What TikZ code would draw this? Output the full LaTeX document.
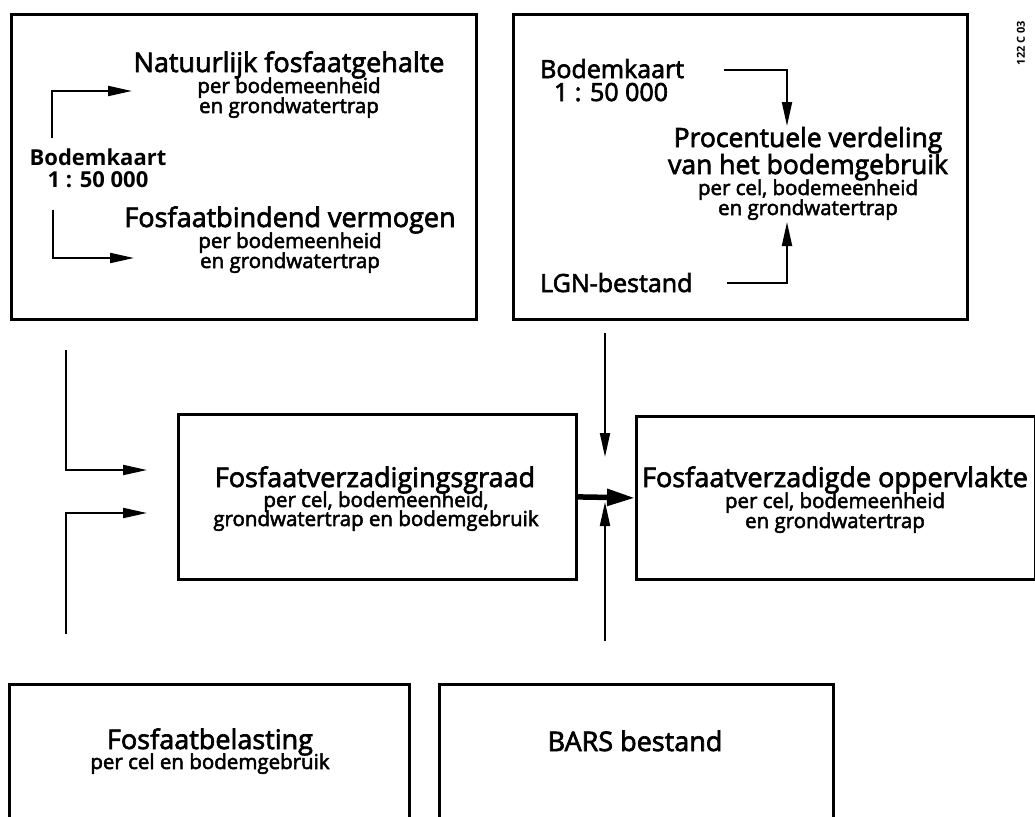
\documentclass[tikz,border=0pt]{standalone}
\usepackage{fontspec}
\setmainfont{Open Sans}
\newfontfamily\medfont{Open Sans}[FakeBold=2.5]
\usetikzlibrary{arrows.meta}
\begin{document}
\begin{tikzpicture}[x=1pt,y=-1pt,
 box/.style={draw, line width=2.8pt, inner sep=0pt, anchor=north west},
 conn/.style={line width=2pt, -{Triangle[length=24pt,width=10pt]}},
 big/.style={font=\medfont\fontsize{27}{27}\selectfont, inner sep=0pt, anchor=base},
 small/.style={font=\medfont\fontsize{20.5}{20}\selectfont, inner sep=0pt, anchor=base},
 src/.style={font=\fontsize{22}{22}\selectfont\bfseries, inner sep=0pt, anchor=base},
 srcb/.style={font=\medfont\fontsize{25}{24}\selectfont, inner sep=0pt, anchor=base west}]
\useasboundingbox (0,0) rectangle (1035,816);
% boxes
\node[box, minimum width=465pt, minimum height=305pt] (tl) at (10,13) {};
\node[box, minimum width=454pt, minimum height=305pt] (tr) at (512,13) {};
\node[box, minimum width=398pt, minimum height=165pt] (mid) at (177,413) {};
\node[box, minimum width=399pt, minimum height=163pt] (rgt) at (635,415) {};
\node[box, minimum width=400pt, minimum height=150pt] (bl) at (8,683) {};
\node[box, minimum width=394pt, minimum height=150pt] (br) at (438,683) {};
% top-left content
\node[big] (nat) at (289,72) {Natuurlijk fosfaatgehalte};
\node[small] (nat2) at (289,93) {per bodemeenheid};
\node[small] (nat3) at (289,113) {en grondwatertrap};
\node[src] (bk1a) at (98,165) {Bodemkaart};
\node[src] (bk1b) at (98,187) {1 : 50 000};
\node[big] (fbv) at (290,227) {Fosfaatbindend vermogen};
\node[small] (fbv2) at (290,248) {per bodemeenheid};
\node[small] (fbv3) at (290,268) {en grondwatertrap};
\coordinate (bk1up) at (52,138);
\coordinate (bk1dn) at (53,210);
\coordinate (natin) at (132,91);
\coordinate (fbvin) at (134,258);
\draw[conn] (bk1up) |- (natin);
\draw[conn] (bk1dn) |- (fbvin);
% top-right content
\node[srcb] (bk2a) at (540,78) {Bodemkaart};
\node[srcb, anchor=base] (bk2b) at (611,101) {1 : 50 000};
\node[big, font=\medfont\fontsize{26.5}{27}\selectfont] (pv) at (808,147) {Procentuele verdeling};
\node[big, font=\medfont\fontsize{26.5}{27}\selectfont] (pv1) at (808,174) {van het bodemgebruik};
\node[small] (pv2) at (808,195) {per cel, bodemeenheid};
\node[small] (pv3) at (808,215) {en grondwatertrap};
\node[srcb] (lgn) at (540,292) {LGN-bestand};
\coordinate (bk2out) at (724,70);
\coordinate (pvtop) at (787,126);
\coordinate (lgnout) at (727,283);
\coordinate (pvbot) at (787,222);
\draw[conn] (bk2out) -| (pvtop);
\draw[conn] (lgnout) -| (pvbot);
% middle content
\node[big] (fvg) at (375,487) {Fosfaatverzadigingsgraad};
\node[small] (fvg2) at (376,507) {per cel, bodemeenheid,};
\node[small] (fvg3) at (376,526) {grondwatertrap en bodemgebruik};
\node[big] (fvo) at (835,487) {Fosfaatverzadigde oppervlakte};
\node[small] (fvo2) at (835,508) {per cel, bodemeenheid};
\node[small] (fvo3) at (835,528) {en grondwatertrap};
% bottom content
\node[big] (fb) at (210,749) {Fosfaatbelasting};
\node[small] (fb2) at (210,769) {per cel en bodemgebruik};
\node[big] (bars) at (635,751) {BARS bestand};
% connectors between boxes
\coordinate (l1) at (66,350);
\coordinate (l1t) at (147,470);
\coordinate (l2) at (66,634);
\coordinate (l2t) at (147,513);
\coordinate (r1) at (605,333);
\coordinate (r1t) at (605,457);
\coordinate (r2) at (605,641);
\coordinate (r2t) at (605,502);
\draw[conn] (l1) |- (l1t);
\draw[conn] (l2) |- (l2t);
\draw[conn] (r1) -- (r1t);
\draw[conn] (r2) -- (r2t);
\draw[line width=5.5pt, -{Triangle[length=28pt,width=16pt]}] (mid.east) -- (rgt.west);
% code
\node[font=\fontsize{11}{12}\selectfont\bfseries, rotate=90, inner sep=0pt] (code) at (1021,43) {122 C 03};
\end{tikzpicture}
\end{document}
